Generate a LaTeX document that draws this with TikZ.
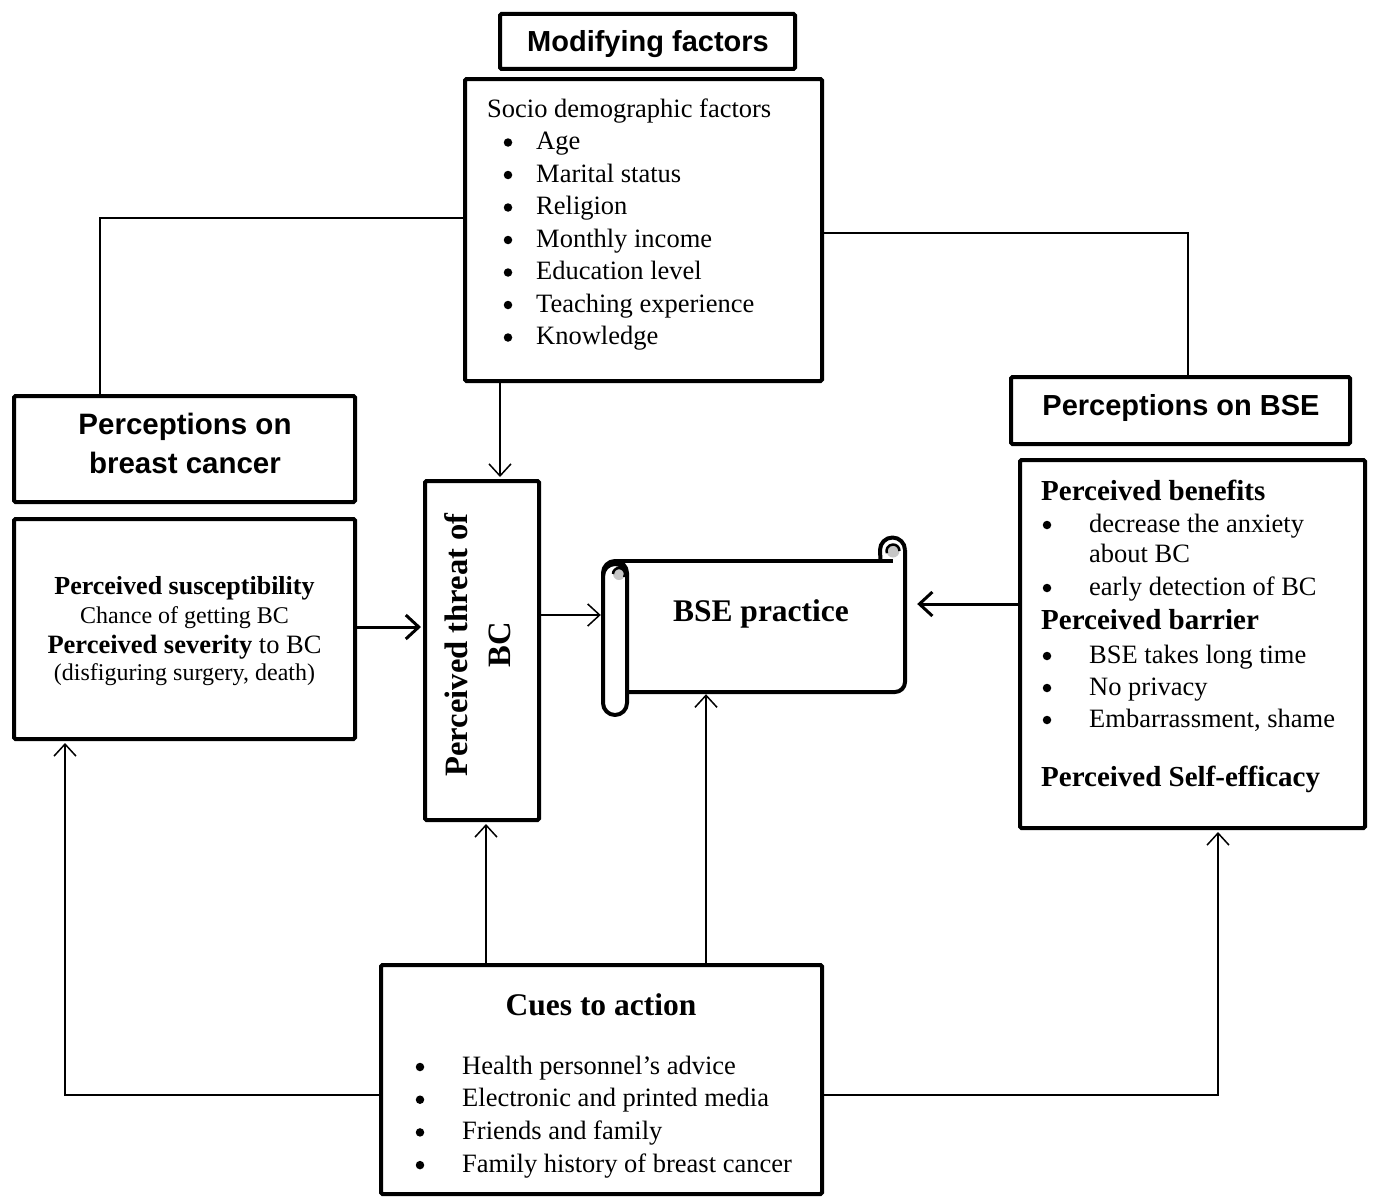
\documentclass[tikz,border=0pt]{standalone}
\usepackage{fontspec}
\setmainfont{Liberation Serif}
\newfontfamily\arialfont{Liberation Sans}
\usetikzlibrary{arrows.meta,calc}
\begin{document}
\begin{tikzpicture}[x=1pt,y=-1pt,
  box/.style={draw,line width=4pt,rounded corners=1.5pt,inner sep=0pt},
  conn/.style={line width=1.5pt},
  arr/.style={line width=1.5pt,shorten >=2pt,-{Straight Barb[length=12pt,width=22pt]}},
  tarr/.style={line width=3pt,shorten >=2pt,-{Straight Barb[length=13pt,width=24pt]}},
  tl/.style={inner sep=0pt,anchor=base west,font=\fontsize{26.5}{31}\selectfont},
  tc/.style={inner sep=0pt,anchor=base,font=\fontsize{26.5}{31}\selectfont},
  bul/.style={circle,fill,inner sep=0pt,minimum size=8.5pt},
  hd/.style={inner sep=0pt,font=\arialfont\bfseries\fontsize{29}{39}\selectfont},
  bh/.style={inner sep=0pt,anchor=base west,font=\bfseries\fontsize{29}{34}\selectfont},
]
\useasboundingbox (0,0) rectangle (1373,1199);

% helper coordinates
\coordinate (x65) at (65,0);
\coordinate (x100) at (100,0);
\coordinate (x486) at (486,0);
\coordinate (x500) at (500,0);
\coordinate (x706) at (706,0);
\coordinate (x1188) at (1188,0);
\coordinate (x1218) at (1218,0);
\coordinate (y218) at (0,218);
\coordinate (y233) at (0,233);
\coordinate (y604) at (0,604);
\coordinate (y615) at (0,615);
\coordinate (y627) at (0,627);
\coordinate (y1095) at (0,1095);

% boxes
\node[box,minimum width=295pt,minimum height=55pt] (mod) at (647.5,41.5) {};
\node[box,minimum width=357pt,minimum height=302pt] (socio) at (643.5,230) {};
\node[box,minimum width=341pt,minimum height=106pt] (pbc) at (184.5,449) {};
\node[box,minimum width=341pt,minimum height=220pt] (lbox) at (184.5,629) {};
\node[box,minimum width=114pt,minimum height=339pt] (threat) at (482,650.5) {};
\node[box,minimum width=339pt,minimum height=67pt] (pbse) at (1180.5,410.5) {};
\node[box,minimum width=345pt,minimum height=368pt] (rbox) at (1192.5,644) {};
\node[box,minimum width=441pt,minimum height=229pt] (cues) at (601.5,1079.5) {};
\node[inner sep=0pt,minimum width=302pt,minimum height=131pt] (bse) at (754,626.5) {};

% scroll shape
\begin{scope}[line width=4pt,line join=round]
  \draw (615,561) -- (893,561);
  \draw (905,550) -- (905,682) arc[start angle=0,end angle=90,radius=10] -- (627,692);
  % right curl
  \draw (905,550) arc[start angle=0,end angle=-180,radius=12.5] -- (880.5,561);
  \fill[gray!45] (893,551) circle[radius=6.5];
  \draw[line width=2.5pt] (899.5,551) arc[start angle=0,end angle=-200,radius=6.5];
  % left roll
  \draw[rounded corners=12pt] (603,715) -- (603,561) -- (627,561) -- (627,715) -- cycle;
  \fill[gray!45] (619,574) circle[radius=6];
  \draw[line width=2.5pt] (613,574) arc[start angle=180,end angle=390,radius=6];
  \draw (603,576) arc[start angle=180,end angle=360,radius=12];
\end{scope}

% texts
\node[hd] (tmod) at (648,44) {Modifying factors};
\node[tl] (s0) at (487,117) {Socio demographic factors};
\foreach \t [count=\i] in {Age,Marital status,Religion,Monthly income,Education level,Teaching experience,Knowledge}{
  \node[bul] (sb\i) at (508,{110+32.5*\i}) {};
  \node[tl] (s\i) at (536,{117+32.5*\i}) {\t};
}
\node[hd,font=\arialfont\bfseries\fontsize{29.5}{39}\selectfont,align=center] (tpbc) at (185,443) {Perceptions on\\breast cancer};

\node[tc,font=\bfseries\fontsize{26}{31}\selectfont] (l1) at (184.5,594) {Perceived susceptibility};
\node[tc,font=\fontsize{24}{28}\selectfont] (l2) at (184.5,623) {Chance of getting BC};
\node[tc] (l3) at (184.5,653) {\textbf{Perceived severity} to BC};
\node[tc,font=\fontsize{24}{28}\selectfont] (l4) at (184.5,680) {(disfiguring surgery, death)};

\node[inner sep=0pt,rotate=90,align=center,font=\bfseries\fontsize{32.6}{43}\selectfont] (tthreat) at (478,645) {Perceived threat of\\BC};

\node[inner sep=0pt,font=\bfseries\fontsize{31.5}{37}\selectfont] (tbse) at (761,614) {BSE practice};

\node[hd] (tpbse) at (1181,408) {Perceptions on BSE};

\node[bh] (r0) at (1041,500) {Perceived benefits};
\node[bul] (rb1) at (1047,525) {};
\node[tl] (r1) at (1089,532) {decrease the anxiety};
\node[tl] (r1b) at (1089,562) {about BC};
\node[bul] (rb2) at (1047,588) {};
\node[tl] (r2) at (1089,595) {early detection of BC};
\node[bh] (r3) at (1041,629) {Perceived barrier};
\node[bul] (rb4) at (1047,656) {};
\node[tl] (r4) at (1089,663) {BSE takes long time};
\node[bul] (rb5) at (1047,688) {};
\node[tl] (r5) at (1089,695) {No privacy};
\node[bul] (rb6) at (1047,720) {};
\node[tl] (r6) at (1089,727) {Embarrassment, shame};
\node[bh] (r7) at (1041,786) {Perceived Self-efficacy};

\node[tc,font=\bfseries\fontsize{31.5}{37}\selectfont] (c0) at (601,1015) {Cues to action};
\foreach \t [count=\i] in {Health personnel’s advice,Electronic and printed media,Friends and family,Family history of breast cancer}{
  \node[bul] (cb\i) at (420,{1034.3+32.7*\i}) {};
  \node[tl] (c\i) at (462,{1041.3+32.7*\i}) {\t};
}

% connectors
\draw[conn] (pbc.north -| x100) |- (socio.west |- y218);
\draw[conn] (socio.east |- y233) -| (pbse.north -| x1188);
\draw[arr] (socio.south -| x500) -- (threat.north -| x500);
\draw[tarr] (lbox.east |- y627) -- (threat.west |- y627);
\draw[arr] (threat.east |- y615) -- (bse.west |- y615);
\draw[tarr,shorten >=12pt] (rbox.west |- y604) -- (bse.east |- y604);
\draw[arr] (cues.north -| x486) -- (threat.south -| x486);
\draw[arr] (cues.north -| x706) -- (bse.south -| x706);
\draw[arr] (cues.west |- y1095) -| (lbox.south -| x65);
\draw[arr] (cues.east |- y1095) -| (rbox.south -| x1218);
\end{tikzpicture}
\end{document}
